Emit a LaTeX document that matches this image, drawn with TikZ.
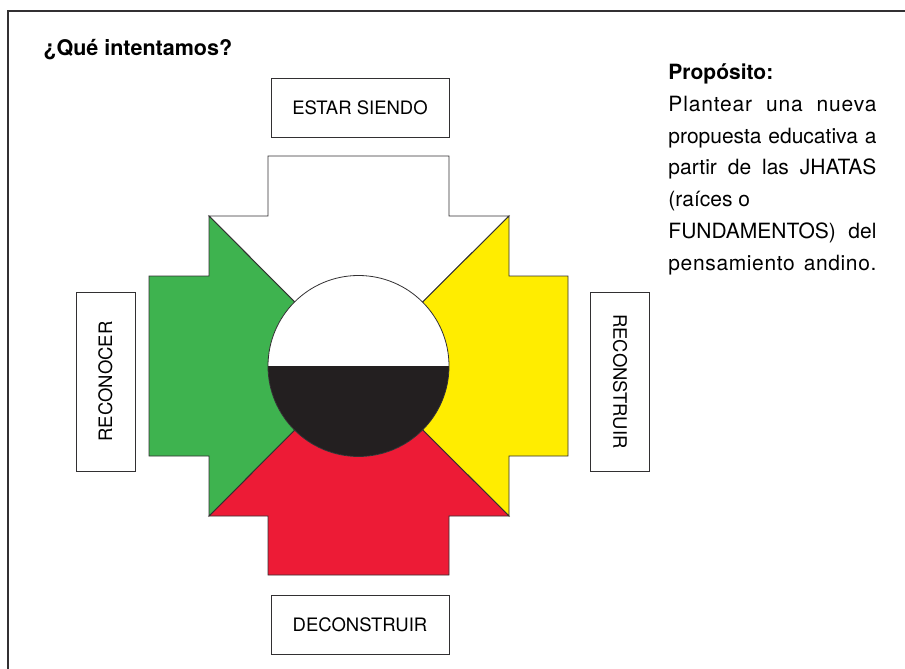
\documentclass[tikz,border=0pt]{standalone}
\usepackage{fontspec}
\setmainfont{TeX Gyre Heros}
\usetikzlibrary{calc}

\definecolor{chgreen}{RGB}{62,179,79}
\definecolor{chyellow}{RGB}{255,237,0}
\definecolor{chred}{RGB}{237,27,54}
\definecolor{chblack}{RGB}{35,31,32}
\definecolor{lines}{RGB}{50,48,50}

\begin{document}
\begin{tikzpicture}[x=1pt,y=-1pt,line width=0.9pt,
  labelbox/.style={draw=lines, fill=white, inner sep=0pt, minimum width=178pt, minimum height=59pt, font=\fontsize{18.5}{22}\selectfont},
  arm/.style={draw=lines, line join=miter}]

\useasboundingbox (0,0) rectangle (905,669);

% frame
\draw[line width=1.4pt, lines] (8,669) -- (8,11) -- (905,11);

\node[anchor=base west, inner sep=0pt, font=\bfseries\fontsize{21.5}{25}\selectfont] (titulo) at (43,56) {¿Qué intentamos?};

\coordinate (c) at (358.5,366);

% chakana arms
\filldraw[arm, fill=white] (209,216) -- (268,216) -- (268,156) -- (449,156) -- (449,216) -- (509,216) -- (c) -- cycle;
\filldraw[arm, fill=chyellow] (509,216) -- (509,276) -- (568,276) -- (568,456) -- (509,456) -- (509,516) -- (c) -- cycle;
\filldraw[arm, fill=chred] (509,516) -- (449,516) -- (449,575) -- (268,575) -- (268,516) -- (209,516) -- (c) -- cycle;
\filldraw[arm, fill=chgreen] (209,516) -- (209,456) -- (149,456) -- (149,276) -- (209,276) -- (209,216) -- (c) -- cycle;

% centre
\fill[white] (c) circle (90.5pt);
\begin{scope}
\clip (260,366) rectangle (460,470);
\fill[chblack] (c) circle (90.5pt);
\end{scope}
\draw[lines, line width=0.8pt] (c) circle (90.5pt);

\node[labelbox] (estar) at (360,107.5) {ESTAR SIENDO};
\node[labelbox] (deconstruir) at (360,625) {DECONSTRUIR};
\node[labelbox, minimum width=179pt, rotate=90] (reconocer) at (105.5,381.5) {RECONOCER};
\node[labelbox, minimum width=179pt, rotate=-90] (reconstruir) at (620,381.5) {RECONSTRUIR};

\node[anchor=north west, inner sep=0pt, text width=208pt, align=justify, font=\fontsize{21}{31.9}\selectfont] (proposito) at (668,63)
  {\textbf{Propósito:}\\
   {\addfontfeature{LetterSpace=4}Plantear una nueva}\linebreak
   propuesta educativa a\linebreak
   partir de las JHATAS\linebreak
   (raíces o\\
   FUNDAMENTOS) del\linebreak
   \makebox[\linewidth][s]{\addfontfeature{LetterSpace=3}pensamiento andino.}};

\end{tikzpicture}
\end{document}
